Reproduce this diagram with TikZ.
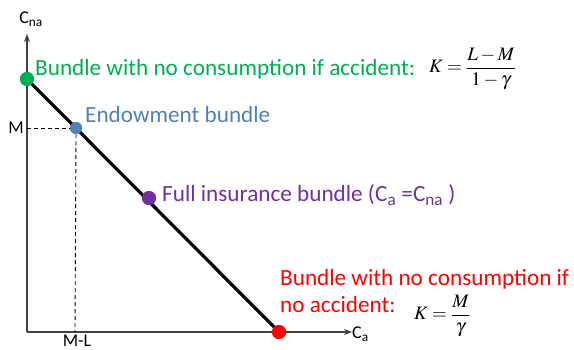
\documentclass[tikz,border=0pt]{standalone}
\usepackage{mathptmx}
\usepackage[no-math]{fontspec}
\setmainfont{Carlito}
\usetikzlibrary{arrows.meta}
\definecolor{cgreen}{HTML}{00B050}
\definecolor{cblue}{HTML}{4F81BD}
\definecolor{cpurple}{HTML}{7030A0}
\definecolor{cred}{HTML}{FF0000}
\tikzset{
  axisline/.style={draw=black!75, line width=1.6pt},
  budget/.style={draw=black, line width=3.2pt},
  guide/.style={draw=black, line width=0.9pt, dash pattern=on 4pt off 3pt},
  dot/.style={circle, inner sep=0pt, minimum size=14pt},
  lbl/.style={font=\fontsize{23.2}{28}\selectfont, inner sep=0pt, anchor=base west},
  axlbl/.style={font=\fontsize{18}{20}\selectfont, inner sep=0pt},
  mathlbl/.style={font=\fontsize{19}{21}\selectfont, inner sep=0pt, anchor=west},
}
\begin{document}
\begin{tikzpicture}[x=1pt,y=-1pt]
\useasboundingbox (0,0) rectangle (574,350);
\coordinate (o) at (27,332);
\coordinate (ytop) at (27,34);
\coordinate (xend) at (352,332);
\coordinate (mtick) at (27,128);
\coordinate (mltick) at (75,332);
% axes
\draw[axisline, -{Stealth[length=8pt,width=6pt]}] (o) -- (ytop);
\draw[axisline, -{Stealth[length=8pt,width=6pt]}] (o) -- (xend);
\node[axlbl, anchor=base] (cna) at (31,24) {C\textsubscript{na}};
\node[axlbl, anchor=base west] (ca) at (352,339) {C\textsubscript{a}};
% points
\node[dot, fill=cgreen] (g) at (27,79) {};
\node[dot, fill=cblue, minimum size=12pt] (b) at (76,128) {};
\node[dot, fill=cpurple] (p) at (149,198) {};
\node[dot, fill=cred] (r) at (279,332) {};
% budget line
\draw[budget] (g.center) -- (r.center);
% redraw dots on top
\node[dot, fill=cgreen] at (g) {};
\node[dot, fill=cblue, minimum size=12pt] at (b) {};
\node[dot, fill=cpurple] at (p) {};
\node[dot, fill=cred] at (r) {};
% dashed guides
\draw[guide] (mtick) -- (b.west);
\draw[guide] (b.south) -- (mltick);
\node[axlbl, anchor=base east] (m) at (24,134) {M};
\node[axlbl, anchor=base] (ml) at (77,347) {M-L};
% labels
\node[lbl, text=cgreen] (gl) at (35,76) {Bundle with no consumption if accident:};
\node[mathlbl] (gk) at (429,69) {$\displaystyle K=\frac{L-M}{1-\gamma}$};
\node[lbl, text=cblue] (bl) at (85,123) {Endowment bundle};
\node[lbl, text=cpurple] (pl) at (162,202) {Full insurance bundle (C\textsubscript{a} =C\textsubscript{na} )};
\node[lbl, text=cred] (rl1) at (280,286) {Bundle with no consumption if};
\node[lbl, text=cred] (rl2) at (280,313) {no accident:};
\node[mathlbl] (rk) at (414,316) {$\displaystyle K=\frac{M}{\gamma}$};
\end{tikzpicture}
\end{document}
